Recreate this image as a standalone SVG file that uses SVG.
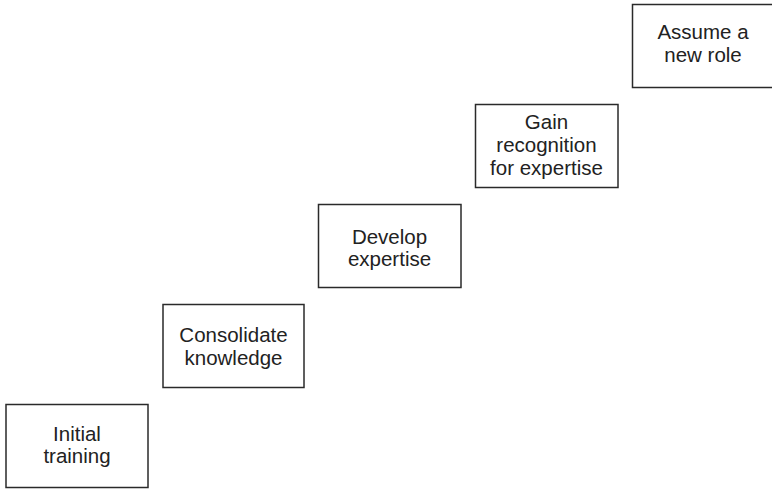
<svg xmlns="http://www.w3.org/2000/svg" width="772" height="489" viewBox="0 0 772 489">
<style>
.box{fill:#fff;stroke:#2a2a2a;stroke-width:1.5}
.t{font-family:"Liberation Sans",Arial,sans-serif;font-size:20.5px;fill:#222;text-anchor:middle}
</style>
<rect width="772" height="489" fill="#fff"/>
<g id="connectors"></g>
<g id="n1">
<rect class="box" x="6" y="404.5" width="142" height="83"/>
<text class="t" x="77" y="441">Initial</text>
<text class="t" x="77" y="463">training</text>
</g>
<g id="n2">
<rect class="box" x="163" y="304.5" width="141" height="83"/>
<text class="t" x="233.5" y="342">Consolidate</text>
<text class="t" x="233.5" y="365">knowledge</text>
</g>
<g id="n3">
<rect class="box" x="318.5" y="204.5" width="142.5" height="83"/>
<text class="t" x="389.5" y="244">Develop</text>
<text class="t" x="389.5" y="266">expertise</text>
</g>
<g id="n4">
<rect class="box" x="475.5" y="104.5" width="142.5" height="83"/>
<text class="t" x="546.5" y="129">Gain</text>
<text class="t" x="546.5" y="152">recognition</text>
<text class="t" x="546.5" y="175">for expertise</text>
</g>
<g id="n5">
<rect class="box" x="632.5" y="4.5" width="143" height="83"/>
<text class="t" x="703" y="39">Assume a</text>
<text class="t" x="703" y="62">new role</text>
</g>
</svg>
